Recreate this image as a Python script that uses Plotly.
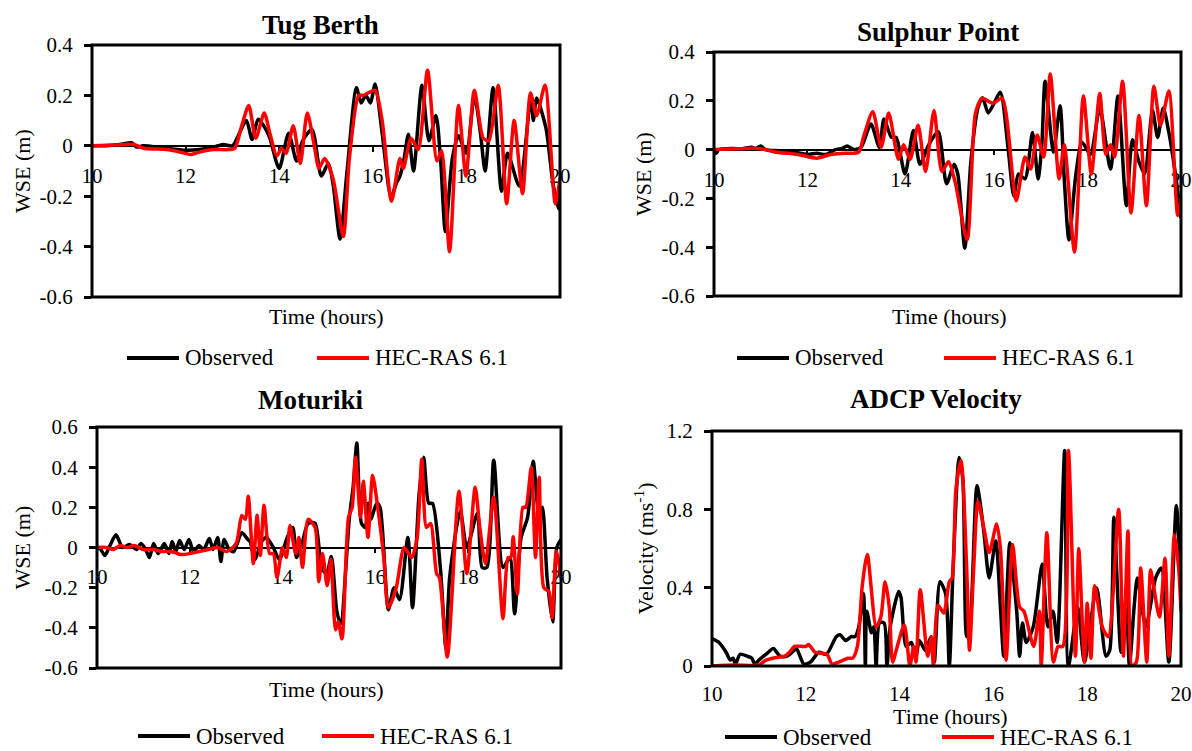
import plotly.graph_objects as go

W, H = 1192, 751
FONT = '"Liberation Serif", "Times New Roman", "DejaVu Serif", serif'

# ---------------- data ----------------
x_ticks = [10, 12, 14, 16, 18, 20]
x_ticklabels = ["10", "12", "14", "16", "18", "20"]

wse_ticks_a = [-0.6, -0.4, -0.2, 0, 0.2, 0.4]
wse_labels_a = ["-0.6", "-0.4", "-0.2", "0", "0.2", "0.4"]
wse_ticks_b = [-0.6, -0.4, -0.2, 0, 0.2, 0.4, 0.6]
wse_labels_b = ["-0.6", "-0.4", "-0.2", "0", "0.2", "0.4", "0.6"]
vel_ticks = [0, 0.4, 0.8, 1.2]
vel_labels = ["0", "0.4", "0.8", "1.2"]

# Tug Berth
tb_obs_t = [10.0, 10.3, 10.6, 10.85, 10.95, 11.1, 11.5, 12.0, 12.3, 12.6, 12.8, 13.0, 13.1, 13.3,
            13.42, 13.55, 13.7, 13.8, 14.0, 14.2, 14.37, 14.5, 14.7, 14.9, 15.05, 15.15, 15.3,
            15.45, 15.65, 15.75, 15.85, 15.95, 16.05, 16.2, 16.39, 16.5, 16.58, 16.67, 16.76,
            16.87, 17.05, 17.2, 17.35, 17.45, 17.55, 17.7, 17.83, 18.0, 18.17, 18.3, 18.4, 18.57,
            18.75, 18.88, 19.13, 19.38, 19.43, 19.5, 19.7, 19.85, 19.97, 20.0]
tb_obs_v = [0.0, 0.0, 0.005, 0.012, -0.005, 0.0, -0.008, -0.018, -0.015, -0.005, 0.005, 0.0, 0.03, 0.1,
            0.025, 0.105, 0.07, 0.03, -0.09, 0.05, -0.06, 0.02, 0.065, -0.12, -0.07, -0.15, -0.37,
            -0.1, 0.23, 0.17, 0.2, 0.17, 0.245, 0.05, -0.205, -0.15, -0.12, -0.05, 0.046,
            -0.1, 0.24, 0.02, 0.12, -0.06, -0.34, -0.05, 0.04, -0.03, 0.2, 0.05, -0.1, 0.23,
            -0.18, -0.03, -0.16, 0.2, 0.1, 0.19, 0.07, -0.15, -0.25, -0.2]
tb_sim_t = [10.0, 10.5, 10.9, 11.1, 11.6, 12.0, 12.1, 12.3, 12.6, 12.9, 13.05, 13.2, 13.35, 13.5,
            13.68, 13.8, 13.95, 14.05, 14.15, 14.3, 14.45, 14.6, 14.75, 14.85, 14.97, 15.15, 15.37,
            15.5, 15.7, 15.8, 15.9, 16.05, 16.2, 16.4, 16.58, 16.65, 16.82, 16.97, 17.17, 17.37,
            17.47, 17.64, 17.83, 17.99, 18.17, 18.36, 18.48, 18.68, 18.86, 19.02, 19.2, 19.37,
            19.5, 19.68, 19.9, 20.0]
tb_sim_v = [0.0, 0.003, 0.005, -0.01, -0.015, -0.03, -0.035, -0.025, -0.015, -0.015, -0.01, 0.08, 0.16, 0.03,
            0.13, 0.05, -0.04, -0.01, -0.03, 0.08, -0.07, 0.13, 0.0, -0.09, -0.05, -0.13, -0.36,
            -0.05, 0.2, 0.2, 0.21, 0.22, 0.1, -0.22, -0.05, -0.09, 0.03, -0.015, 0.3, -0.06,
            -0.02, -0.42, 0.16, -0.12, 0.22, 0.03, 0.02, 0.24, -0.23, 0.1, -0.19, 0.21,
            0.12, 0.24, -0.23, -0.13]

# Sulphur Point
sp_obs_t = [10.0, 10.05, 10.1, 10.4, 10.6, 10.8, 10.9, 11.0, 11.1, 11.4, 11.7, 12.0, 12.2, 12.4, 12.6,
            12.75, 12.85, 13.0, 13.15, 13.36, 13.54, 13.64, 13.8, 13.9, 14.09, 14.27, 14.41, 14.6,
            14.8, 14.98, 15.14, 15.22, 15.37, 15.5, 15.65, 15.75, 15.87, 15.97, 16.13, 16.3, 16.42,
            16.52, 16.66, 16.82, 16.94, 17.02, 17.09, 17.27, 17.41, 17.5, 17.6, 17.75, 17.88, 18.06,
            18.26, 18.49, 18.65, 18.83, 18.96, 19.1, 19.22, 19.39, 19.5, 19.62, 19.74, 19.88, 20.0]
sp_obs_v = [0.0, -0.015, 0.0, 0.005, 0.003, 0.01, 0.005, 0.015, 0.0, -0.005, -0.01, -0.02, -0.015, -0.02, 0.0,
            0.005, 0.015, 0.0, 0.01, 0.105, 0.01, 0.125, 0.05, 0.05, -0.1, 0.078, -0.06, 0.02,
            0.074, -0.14, -0.06, -0.1, -0.404, -0.05, 0.17, 0.213, 0.15, 0.18, 0.235, 0.0, -0.19,
            -0.1, -0.12, 0.07, -0.12, 0.02, 0.28, -0.01, 0.18, -0.12, -0.37, -0.1, 0.03, -0.02,
            0.17, -0.08, 0.22, -0.23, 0.04, -0.05, -0.1, 0.16, 0.05, 0.17, 0.07, -0.1, -0.28]
sp_sim_t = [10.0, 10.5, 10.9, 11.1, 11.3, 11.8, 12.2, 12.5, 12.8, 13.1, 13.2, 13.4, 13.58, 13.74, 13.95,
            14.06, 14.2, 14.37, 14.53, 14.71, 14.88, 15.02, 15.16, 15.42, 15.6, 15.74, 15.97, 16.17,
            16.47, 16.66, 16.78, 16.92, 17.06, 17.2, 17.39, 17.5, 17.72, 17.91, 18.08, 18.26, 18.39,
            18.49, 18.58, 18.75, 18.93, 19.1, 19.26, 19.42, 19.56, 19.74, 19.93, 20.0]
sp_sim_v = [0.0, 0.003, 0.005, 0.0, -0.01, -0.02, -0.035, -0.02, -0.015, -0.01, 0.05, 0.155, 0.01, 0.15, -0.04,
            0.02, -0.04, 0.1, -0.09, 0.16, -0.09, -0.05, -0.13, -0.37, 0.15, 0.21, 0.19, 0.21,
            -0.21, -0.03, -0.08, 0.06, -0.03, 0.31, -0.12, 0.02, -0.42, 0.22, -0.1, 0.23, -0.02,
            0.02, -0.03, 0.28, -0.26, 0.14, -0.23, 0.26, 0.1, 0.24, -0.27, -0.2]

# Moturiki
mo_obs_t = [10.0, 10.08, 10.17, 10.28, 10.41, 10.55, 10.7, 10.85, 10.95, 11.05, 11.13, 11.22, 11.32,
            11.45, 11.55, 11.62, 11.7, 11.78, 11.88, 11.98, 12.08, 12.2, 12.3, 12.42, 12.5, 12.6,
            12.67, 12.74, 12.85, 12.95, 13.12, 13.25, 13.3, 13.4, 13.55, 13.65, 13.8, 13.93, 14.1,
            14.22, 14.3, 14.43, 14.55, 14.7, 14.84, 14.95, 15.05, 15.17, 15.25, 15.44, 15.52, 15.6,
            15.7, 15.78, 15.85, 15.9, 16.03, 16.1, 16.28, 16.4, 16.52, 16.7, 16.8, 16.94, 17.04,
            17.15, 17.23, 17.4, 17.52, 17.6, 17.83, 17.97, 18.2, 18.3, 18.4, 18.55, 18.75, 18.9,
            19.0, 19.14, 19.28, 19.4, 19.53, 19.6, 19.7, 19.82, 19.91, 20.0]
mo_obs_v = [0.0, -0.01, -0.04, 0.01, 0.063, 0.0, 0.015, -0.01, 0.02, -0.01, -0.05, 0.02, -0.03,
            0.02, -0.03, 0.03, -0.02, 0.035, -0.01, 0.04, -0.02, 0.01, -0.01, 0.045, -0.01, 0.05,
            -0.07, 0.04, -0.01, -0.02, 0.074, 0.04, 0.03, -0.06, 0.03, 0.05, 0.0, -0.06, 0.05,
            0.1, -0.05, 0.03, 0.12, 0.12, -0.1, -0.13, -0.045, -0.32, -0.38, 0.15, 0.3, 0.52,
            0.12, 0.1, 0.22, 0.14, 0.22, 0.2, -0.31, -0.2, -0.26, 0.05, -0.3, 0.26, 0.45,
            0.22, 0.22, -0.1, -0.5, -0.15, 0.18, 0.0, 0.17, -0.1, -0.1, 0.435, -0.1, -0.05,
            -0.33, 0.05, 0.15, 0.43, 0.15, 0.2, -0.15, -0.37, 0.0, 0.04]
mo_sim_t = [10.0, 10.2, 10.35, 10.5, 10.65, 10.8, 11.0, 11.2, 11.4, 11.6, 11.8, 12.0, 12.2, 12.4,
            12.6, 12.8, 13.0, 13.12, 13.2, 13.26, 13.37, 13.45, 13.52, 13.6, 13.72, 13.8, 13.88,
            14.0, 14.08, 14.16, 14.28, 14.35, 14.43, 14.55, 14.7, 14.78, 14.86, 14.96, 15.04, 15.14,
            15.2, 15.28, 15.42, 15.5, 15.57, 15.68, 15.74, 15.84, 15.94, 16.05, 16.18, 16.28, 16.45,
            16.62, 16.78, 16.9, 17.0, 17.1, 17.19, 17.32, 17.38, 17.55, 17.8, 17.97, 18.15, 18.25,
            18.37, 18.55, 18.75, 18.86, 18.92, 18.97, 19.06, 19.18, 19.24, 19.36, 19.45, 19.53,
            19.63, 19.74, 19.81, 19.9, 20.0]
mo_sim_v = [0.0, 0.0, -0.01, 0.01, 0.0, 0.01, -0.01, -0.01, -0.02, -0.02, -0.035, -0.03, -0.02, -0.01,
            0.0, -0.02, 0.02, 0.16, 0.14, 0.255, -0.08, 0.16, -0.04, 0.21, -0.03, -0.03, -0.15,
            0.0, -0.05, 0.11, -0.03, 0.05, -0.1, 0.14, 0.1, -0.17, -0.03, -0.19, -0.06, -0.41,
            -0.37, -0.455, 0.15, 0.2, 0.45, 0.15, 0.33, 0.05, 0.36, 0.2, -0.05, -0.3, -0.2,
            0.0, -0.05, 0.05, 0.44, 0.1, 0.12, -0.13, -0.15, -0.545, 0.28, -0.13, 0.3, 0.1,
            -0.08, 0.25, -0.355, -0.05, -0.05, 0.053, -0.23, 0.2, 0.2, 0.4, -0.05, 0.35,
            -0.2, -0.22, -0.35, -0.02, -0.15]

# ADCP velocity
ad_obs_t = [10.0, 10.15, 10.3, 10.39, 10.45, 10.5, 10.6, 10.75, 10.85, 10.91, 11.0, 11.2, 11.31, 11.45,
            11.6, 11.75, 11.8, 11.96, 12.1, 12.28, 12.44, 12.65, 12.73, 12.85, 12.97, 13.05, 13.13,
            13.23, 13.27, 13.3, 13.4, 13.45, 13.5, 13.57, 13.67, 13.73, 13.8, 13.98, 14.03, 14.14,
            14.25, 14.35, 14.42, 14.55, 14.67, 14.74, 14.86, 14.98, 15.06, 15.14, 15.27, 15.35,
            15.43, 15.5, 15.65, 15.79, 15.91, 16.05, 16.15, 16.22, 16.35, 16.45, 16.5, 16.56, 16.62,
            16.7, 16.85, 17.04, 17.16, 17.27, 17.36, 17.52, 17.6, 17.8, 17.94, 18.2, 18.4, 18.48,
            18.57, 18.72, 18.83, 18.9, 19.0, 19.07, 19.25, 19.46, 19.58, 19.74, 19.9, 20.0]
ad_obs_v = [0.14, 0.12, 0.07, 0.03, 0.04, 0.01, 0.06, 0.05, 0.04, 0.01, 0.03, 0.07, 0.09, 0.05,
            0.05, 0.08, 0.09, 0.01, 0.02, 0.07, 0.06, 0.15, 0.16, 0.13, 0.15, 0.15, 0.2,
            0.37, 0.0, 0.28, 0.17, 0.2, 0.0, 0.22, 0.22, 0.0, 0.2, 0.38, 0.35, 0.1,
            0.12, 0.05, 0.13, 0.08, 0.15, 0.02, 0.43, 0.37, 0.0, 0.5, 1.065, 0.95,
            0.15, 0.2, 0.92, 0.7, 0.45, 0.64, 0.3, 0.05, 0.63, 0.4, 0.27, 0.05, 0.22,
            0.12, 0.2, 0.52, 0.2, 0.28, 0.12, 1.1, 0.0, 0.3, 0.02, 0.4, 0.05, 0.08,
            0.76, 0.07, 0.35, 0.0, 0.3, 0.45, 0.2, 0.45, 0.5, 0.02, 0.82, 0.4]
ad_sim_t = [10.0, 10.5, 11.0, 11.15, 11.3, 11.55, 11.65, 11.76, 12.0, 12.06, 12.2, 12.45, 12.56, 12.7,
            12.9, 13.0, 13.1, 13.2, 13.31, 13.5, 13.6, 13.69, 13.78, 13.85, 13.95, 14.1, 14.22,
            14.3, 14.35, 14.44, 14.6, 14.68, 14.72, 14.82, 14.94, 15.06, 15.12, 15.2, 15.31, 15.43,
            15.49, 15.58, 15.67, 15.8, 15.91, 16.07, 16.15, 16.27, 16.41, 16.56, 16.65, 16.86,
            16.98, 17.02, 17.14, 17.28, 17.38, 17.48, 17.6, 17.75, 17.82, 17.94, 18.0, 18.08,
            18.16, 18.32, 18.45, 18.67, 18.77, 18.87, 18.96, 19.05, 19.14, 19.27, 19.35, 19.4,
            19.54, 19.66, 19.74, 19.86, 19.95, 20.0]
ad_sim_v = [0.0, 0.005, 0.005, 0.03, 0.04, 0.05, 0.07, 0.1, 0.1, 0.11, 0.07, 0.06, 0.01, 0.02,
            0.04, 0.04, 0.1, 0.4, 0.57, 0.2, 0.25, 0.43, 0.3, 0.02, 0.1, 0.21, 0.0,
            0.1, 0.02, 0.39, 0.05, 0.15, 0.0, 0.31, 0.27, 0.43, 0.45, 0.9, 1.05, 0.5,
            0.08, 0.5, 0.84, 0.7, 0.58, 0.725, 0.6, 0.03, 0.62, 0.3, 0.28, 0.1,
            0.28, 0.0, 0.68, 0.02, 0.1, 0.1, 1.1, 0.05, 0.6, 0.02, 0.32, 0.04,
            0.41, 0.2, 0.15, 0.8, 0.05, 0.69, 0.0, 0.02, 0.5, 0.02, 0.49, 0.43,
            0.25, 0.55, 0.05, 0.67, 0.5, 0.28]

series_names = ["Observed", "HEC-RAS 6.1"]
series_colors = ["#000000", "#ff0000"]

# ---------------- layout helpers (pixel -> paper) ----------------
def px(x):
    return x / W


def py(y):
    return 1 - y / H


panels = [
    dict(title="Tug Berth", obs=(tb_obs_t, tb_obs_v), sim=(tb_sim_t, tb_sim_v),
         box=(92, 560, 45, 297), yrange=(-0.6, 0.4), yticks=(wse_ticks_a, wse_labels_a),
         ytitle="WSE (m)", zero_axis=True,
         title_at=(320, 25), xtitle_at=(326, 316), ytitle_x=22, legend_at=(127, 317, 358)),
    dict(title="Sulphur Point", obs=(sp_obs_t, sp_obs_v), sim=(sp_sim_t, sp_sim_v),
         box=(714, 1181, 52, 296), yrange=(-0.6, 0.4), yticks=(wse_ticks_a, wse_labels_a),
         ytitle="WSE (m)", zero_axis=True,
         title_at=(938, 32), xtitle_at=(949, 316), ytitle_x=643, legend_at=(737, 944, 358)),
    dict(title="Moturiki", obs=(mo_obs_t, mo_obs_v), sim=(mo_sim_t, mo_sim_v),
         box=(97, 561, 427, 668), yrange=(-0.6, 0.6), yticks=(wse_ticks_b, wse_labels_b),
         ytitle="WSE (m)", zero_axis=True,
         title_at=(310, 400), xtitle_at=(326, 689), ytitle_x=22, legend_at=(138, 322, 736)),
    dict(title="ADCP Velocity", obs=(ad_obs_t, ad_obs_v), sim=(ad_sim_t, ad_sim_v),
         box=(712, 1181, 431, 666), yrange=(0, 1.2), yticks=(vel_ticks, vel_labels),
         ytitle="Velocity (ms<sup>-1</sup>)", zero_axis=False,
         title_at=(936, 399), xtitle_at=(951, 716), ytitle_x=643, legend_at=(725, 942, 737)),
]

fig = go.Figure()
layout = dict(width=W, height=H, margin=dict(l=0, r=0, t=0, b=0, autoexpand=False),
              paper_bgcolor="white", plot_bgcolor="white", showlegend=False,
              font=dict(family=FONT, color="black", size=21),
              annotations=[], shapes=[])


def label(text, x, y, size, angle=0, anchor="center"):
    return dict(text=text, x=x, y=y, xref="paper", yref="paper", showarrow=False,
                xanchor=anchor, yanchor="middle", textangle=angle,
                font=dict(family=FONT, size=size, color="black"))


for i, p in enumerate(panels, start=1):
    sfx = "" if i == 1 else str(i)
    xk, yk = "x" + sfx, "y" + sfx
    left, right, top, bottom = p["box"]
    xdom = [px(left), px(right)]
    ydom = [py(bottom), py(top)]
    ymin, ymax = p["yrange"]

    for (t, v), name, color in zip((p["obs"], p["sim"]), series_names, series_colors):
        fig.add_trace(go.Scatter(
            x=t, y=v, mode="lines", name=name,
            xaxis=xk, yaxis=yk,
            line=dict(color=color, width=3.5, shape="spline", smoothing=0.7),
        ))

    xa = dict(domain=xdom, range=[10, 20], tickvals=x_ticks, ticktext=x_ticklabels,
              showgrid=False, zeroline=False,
              tickfont=dict(family=FONT, size=21, color="black"),
              ticklabelstandoff=6)
    if p["zero_axis"]:
        zero_pos = ydom[0] + (0 - ymin) / (ymax - ymin) * (ydom[1] - ydom[0])
        xa.update(anchor="free", position=zero_pos, showline=True, linecolor="black",
                  linewidth=1.5, ticks="outside", ticklen=5, tickwidth=1.5,
                  tickcolor="black", layer="below traces")
    else:
        xa.update(anchor=yk, showline=False, ticks="", ticklabelstandoff=13)
    ya = dict(domain=ydom, range=[ymin, ymax], anchor=xk,
              tickvals=p["yticks"][0], ticktext=p["yticks"][1],
              showgrid=False, zeroline=False, showline=False,
              ticks="outside", ticklen=7, tickwidth=2.5, tickcolor="black",
              tickfont=dict(family=FONT, size=21, color="black"), ticklabelstandoff=7)
    layout["xaxis" + sfx] = xa
    layout["yaxis" + sfx] = ya

    # plot frame
    layout["shapes"].append(dict(type="rect", xref=xk + " domain", yref=yk + " domain",
                                 x0=0, x1=1, y0=0, y1=1,
                                 line=dict(color="black", width=3), layer="above"))

    tx, ty = p["title_at"]
    layout["annotations"].append(label("<b>%s</b>" % p["title"], px(tx), py(ty), 27))
    ax, ay = p["xtitle_at"]
    layout["annotations"].append(label("Time (hours)", px(ax), py(ay), 22))
    layout["annotations"].append(label(p["ytitle"], px(p["ytitle_x"]),
                                       (ydom[0] + ydom[1]) / 2, 22, angle=-90))

    # key: line swatch + series name for each series
    bx, rx, ly = p["legend_at"]
    for sx, name, color in zip((bx, rx), series_names, series_colors):
        layout["shapes"].append(dict(type="line", xref="paper", yref="paper",
                                     x0=px(sx), x1=px(sx + 52), y0=py(ly), y1=py(ly),
                                     line=dict(color=color, width=4)))
        layout["annotations"].append(label(name, px(sx + 56), py(ly), 23, anchor="left"))

fig.update_layout(**layout)
fig.write_html("out.html")
